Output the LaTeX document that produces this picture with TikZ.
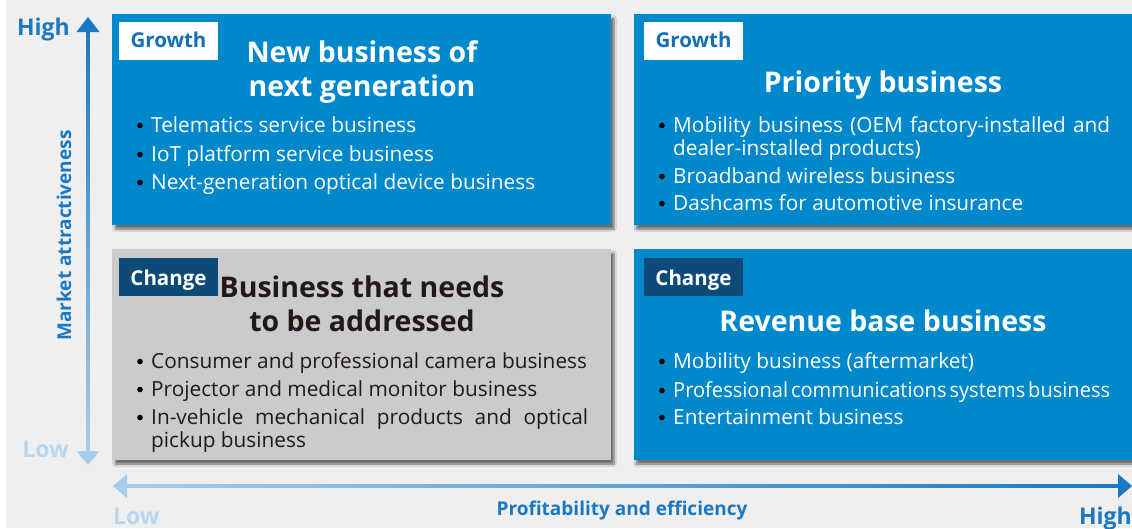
\documentclass[tikz,border=0pt]{standalone}
\usepackage{fontspec}
\usepackage{graphicx}
\setmainfont{Open Sans}
\usetikzlibrary{shadows.blur}
\definecolor{bggray}{HTML}{EFEFEF}
\definecolor{boxblue}{HTML}{0088CC}
\definecolor{boxgray}{HTML}{C9CBCC}
\definecolor{tagdark}{HTML}{0D4A78}
\definecolor{tagtext}{HTML}{1370B6}
\definecolor{axisdark}{HTML}{1A78C2}
\definecolor{axislight}{HTML}{A8CDEA}
\definecolor{lowtext}{HTML}{B8D6EF}
\definecolor{darktext}{HTML}{231815}
\newcommand{\bodyfont}{\fontsize{20.8}{24}\selectfont}
\newcommand{\titlefont}{\fontsize{28.5}{34}\selectfont\bfseries}
\newcommand{\bul}[5]{%
  \node[#1, circle, fill, minimum size=5.6pt, anchor=center] (#2b) at (#3-11,#4-6.5) {};
  \node[#1, anchor=base west] (#2) at (#3,#4) {#5};}
\begin{document}
\begin{tikzpicture}[x=1pt,y=-1pt,
  quad/.style={draw=none, inner sep=0, minimum width=499pt, minimum height=211pt,
    blur shadow={shadow xshift=3pt, shadow yshift=-4pt, shadow blur steps=8, shadow opacity=55}},
  bluequad/.style={quad, fill=boxblue},
  grayquad/.style={quad, fill=boxgray},
  tagbox/.style={inner sep=0, minimum width=99pt, minimum height=38pt},
  growthtag/.style={tagbox, fill=white},
  changetag/.style={tagbox, fill=tagdark},
  tagtxt/.style={inner sep=0, font=\fontsize{20.5}{24}\selectfont\bfseries},
  wtitle/.style={inner sep=0, text=white, font=\titlefont},
  dtitle/.style={inner sep=0, text=darktext, font=\titlefont},
  wbody/.style={inner sep=0, text=white, font=\bodyfont},
  dbody/.style={inner sep=0, text=darktext, font=\bodyfont},
  axlabel/.style={inner sep=0, font=\fontsize{23}{28}\selectfont\bfseries},
  axtitle/.style={inner sep=0, text=axisdark, font=\fontsize{19}{23}\selectfont\bfseries}
]
\useasboundingbox (0,0) rectangle (1132,528);
\fill[bggray] (6,0) rectangle (1132,528);

% quadrants
\node[bluequad] (tl) at (361.5,119.5) {};
\node[bluequad] (tr) at (883,119.5) {};
\node[grayquad] (bl) at (361.5,354.5) {};
\node[bluequad] (br) at (883,354.5) {};

% tags
\node[growthtag] (tltag) at (168.5,41) {};
\node[tagtxt, text=tagtext, anchor=base] (tltagt) at (168.5,47) {Growth};
\node[growthtag] (trtag) at (693.5,41) {};
\node[tagtxt, text=tagtext, anchor=base] (trtagt) at (693.5,47) {Growth};
\node[changetag] (bltag) at (168.5,277) {};
\node[tagtxt, text=white, anchor=base] (bltagt) at (168.5,285) {Change};
\node[changetag] (brtag) at (693.5,277) {};
\node[tagtxt, text=white, anchor=base] (brtagt) at (693.5,285) {Change};

% titles
\node[wtitle, anchor=base] (tlt1) at (362,62) {New business of};
\node[wtitle, anchor=base] (tlt2) at (362,96) {next generation};
\node[wtitle, anchor=base] (trt1) at (883,92) {Priority business};
\node[dtitle, anchor=base] (blt1) at (362,297) {Business that needs};
\node[dtitle, anchor=base] (blt2) at (362,331) {to be addressed};
\node[wtitle, anchor=base] (brt1) at (883,331) {Revenue base business};

% bullets
\bul{wbody}{tla}{151}{132}{Telematics service business}
\bul{wbody}{tlb}{151}{161}{IoT platform service business}
\bul{wbody}{tlc}{151}{189}{Next-generation optical device business}

\bul{wbody}{tra}{673}{132}{\makebox[437pt][s]{Mobility business (OEM factory-installed and}}
\node[wbody, anchor=base west] (tra2) at (673,155) {dealer-installed products)};
\bul{wbody}{trb}{673}{183}{Broadband wireless business}
\bul{wbody}{trc}{673}{210}{Dashcams for automotive insurance}

\bul{dbody}{bla}{151}{368}{Consumer and professional camera business}
\bul{dbody}{blb}{151}{396}{Projector and medical monitor business}
\bul{dbody}{blc}{151}{424}{\makebox[437pt][s]{In-vehicle mechanical products and optical}}
\node[dbody, anchor=base west] (blc2) at (151,447) {pickup business};

\bul{wbody}{bra}{673}{368}{Mobility business (aftermarket)}
\bul{wbody}{brb}{673}{397}{\resizebox{437pt}{\height}{Professional\hspace{3pt}communications\hspace{3pt}systems\hspace{3pt}business}}
\bul{wbody}{brc}{673}{424}{Entertainment business}

% vertical axis
\coordinate (vtop) at (88,17);
\coordinate (vbot) at (88,465);
\shade[top color=axisdark, bottom color=axislight] (86.2,30) rectangle (89.8,453);
\fill[axisdark] (vtop) -- (76.5,32) -- (99.5,32) -- cycle;
\fill[axislight] (vbot) -- (76.5,451) -- (99.5,451) -- cycle;

% horizontal axis
\coordinate (hleft) at (113,486);
\coordinate (hright) at (1132,486);
\shade[left color=axislight, right color=axisdark] (124,484.2) rectangle (1120,487.8);
\fill[axislight] (hleft) -- (127,474) -- (127,498) -- cycle;
\fill[axisdark] (hright) -- (1118,474) -- (1118,498) -- cycle;

% axis labels
\node[axlabel, text=axisdark, anchor=base east] (vhigh) at (70,35) {High};
\node[axlabel, text=lowtext, anchor=base east] (vlow) at (69,457) {Low};
\node[axlabel, text=lowtext, anchor=base west] (hlow) at (113,524) {Low};
\node[axlabel, text=axisdark, anchor=base east] (hhigh) at (1132,524) {High};
\node[axtitle, rotate=90, anchor=base] (vtitle) at (71,235.5) {Market attractiveness};
\node[axtitle, anchor=base] (htitle) at (622,515) {Profitability and efficiency};
\end{tikzpicture}
\end{document}
